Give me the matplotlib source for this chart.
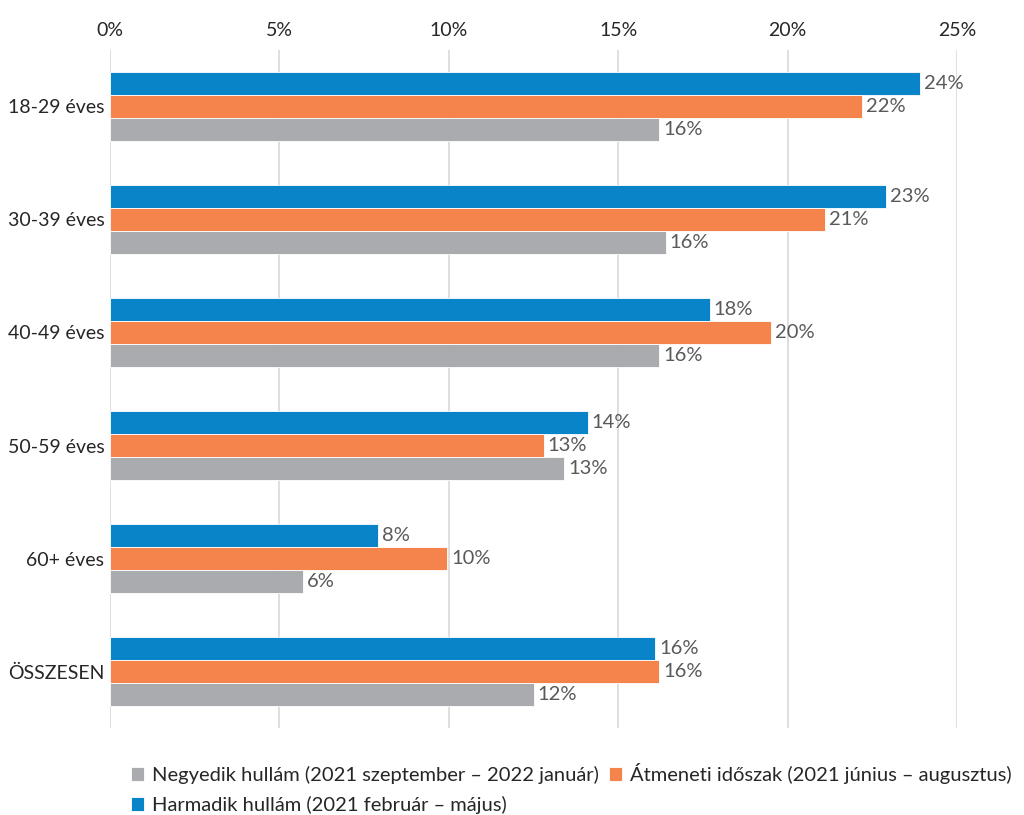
import matplotlib
matplotlib.use('Agg')
import matplotlib.pyplot as plt
import numpy as np

plt.rcParams['font.family'] = ['Lato', 'DejaVu Sans']

categories = ['18-29 éves', '30-39 éves', '40-49 éves', '50-59 éves', '60+ éves', 'ÖSSZESEN']
harmadik = [23.9, 22.9, 17.7, 14.1, 7.9, 16.1]
atmeneti = [22.2, 21.1, 19.5, 12.8, 9.95, 16.2]
negyedik = [16.2, 16.4, 16.2, 13.4, 5.7, 12.5]
labels_h = ['24%', '23%', '18%', '14%', '8%', '16%']
labels_a = ['22%', '21%', '20%', '13%', '10%', '16%']
labels_n = ['16%', '16%', '16%', '13%', '6%', '12%']

series_names = ['Harmadik hullám (2021 február – május)',
                'Átmeneti időszak (2021 június – augusztus)',
                'Negyedik hullám (2021 szeptember – 2022 január)']
colors = ['#0A84C8', '#F5844C', '#A9ABAE']

fig = plt.figure(figsize=(10.24, 8.15), dpi=100)
ax = fig.add_axes([0.1074, 0.1067, 0.8272, 0.832])

y = np.arange(len(categories))
h = 0.205
bars = []
for off, vals, labs, col, name in [(-h, harmadik, labels_h, colors[0], series_names[0]),
                                    (0, atmeneti, labels_a, colors[1], series_names[1]),
                                    (h, negyedik, labels_n, colors[2], series_names[2])]:
    b = ax.barh(y + off, vals, height=h, color=col, label=name, edgecolor='white', linewidth=0.6, zorder=3)
    bars.append(b)
    for yi, v, lab in zip(y + off, vals, labs):
        ax.text(v + 0.12, yi, lab, va='center', ha='left', fontsize=14.5, color='#595959')

ax.set_xlim(0, 25)
ax.set_ylim(5.5, -0.5)
ax.set_xticks(np.arange(0, 26, 5))
ax.set_xticklabels([f'{t}%' for t in range(0, 26, 5)])
ax.xaxis.tick_top()
ax.set_yticks(y)
ax.set_yticklabels(categories)
ax.tick_params(axis='both', length=0, labelsize=14, colors='#262626')
ax.tick_params(axis='x', pad=8)
ax.tick_params(axis='y', pad=4)
ax.grid(axis='x', color='#D9D9D9', linewidth=1.2, zorder=0)
for s in ax.spines.values():
    s.set_visible(False)

handles = [bars[2], bars[0], bars[1]]
names = [series_names[2], series_names[0], series_names[1]]
fig.legend(handles, names, loc='upper left', bbox_to_anchor=(0.118, 0.076), ncol=2,
           frameon=False, fontsize=14.5, handlelength=0.65, handleheight=0.65,
           handletextpad=0.4, columnspacing=0.5, labelspacing=0.6, borderpad=0,
           labelcolor='#262626')

fig.savefig('out.png', dpi=100)
